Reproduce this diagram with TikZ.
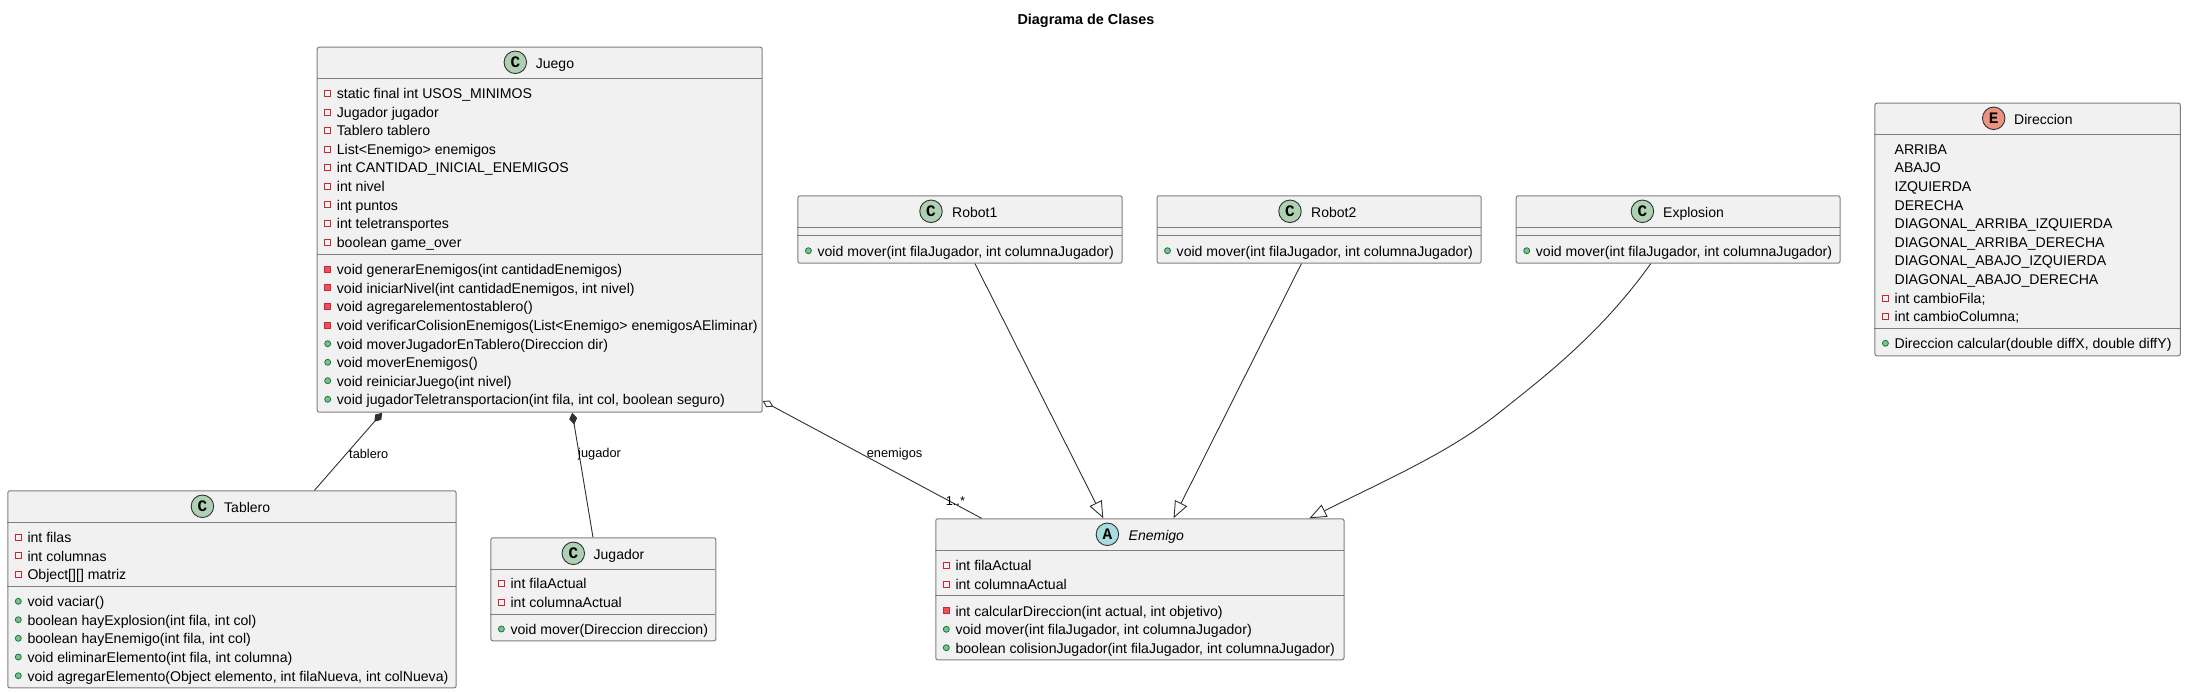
\documentclass[tikz,border=0pt]{standalone}
\usepackage{fontspec}
\setmainfont{Liberation Sans}
\newfontfamily\iconfont{Liberation Mono}
\usetikzlibrary{arrows.meta}
\definecolor{boxfill}{HTML}{F1F1F1}
\definecolor{boxline}{HTML}{7F7F7F}
\definecolor{conn}{HTML}{303030}
\definecolor{cfill}{HTML}{ADD1B2}
\definecolor{afill}{HTML}{A9DCDF}
\definecolor{efill}{HTML}{EB937F}
\definecolor{privline}{HTML}{C82930}
\definecolor{privfill}{HTML}{F24D5C}
\definecolor{publine}{HTML}{038048}
\definecolor{pubfill}{HTML}{84BE84}
\newcount\rowno
\tikzset{
  classbox/.style={draw=boxline,fill=boxfill,line width=1pt,rounded corners=2pt,inner sep=0pt,anchor=north west},
  rowtext/.style={anchor=base west,inner sep=0pt,font=\fontsize{14.1}{14.1}\selectfont,text=black},
  headtext/.style={anchor=base west,inner sep=0pt,font=\fontsize{14}{14}\selectfont,text=black},
  linktext/.style={anchor=base west,inner sep=0pt,font=\fontsize{12.8}{13}\selectfont,text=black},
  sepline/.style={draw=boxline,line width=1pt},
  link/.style={draw=conn,line width=0.9pt},
  badge/.style={circle,draw=conn,line width=0.9pt,minimum size=22.5pt,inner sep=0pt,font=\iconfont\bfseries\fontsize{16}{16}\selectfont,text=black},
}
% box: name, left, top, right, bottom, header bottom, separator
\newcommand{\umlbox}[7]{%
  \node[classbox,minimum width=#4pt-#2pt,minimum height=#5pt-#3pt] (#1) at (#2,#3) {};
  \draw[sepline] (#2,#6) -- (#4,#6);
  \draw[sepline] (#2,#7) -- (#4,#7);
}
% header: box name, badge x, y, fill, letter, text x, text
\newcommand{\umlhead}[7]{%
  \node[badge,fill=#4] (#1badge) at (#2,#3) {#5};
  \path (#6,#3) ++(0,6) node[headtext] (#1title) {#7};
}
\newcommand{\plainrow}[3]{\global\advance\rowno by 1
  \path (#1+20,#2+5.3) node[rowtext] (r\the\rowno) {#3};}
\newcommand{\privattr}[3]{%
  \draw[draw=privline,fill=none,line width=1pt] (#1+8,#2-3) rectangle (#1+14,#2+3);
  \plainrow{#1}{#2}{#3}}
\newcommand{\privmeth}[3]{%
  \draw[draw=privline,fill=privfill,line width=1pt] (#1+8,#2-3) rectangle (#1+14,#2+3);
  \plainrow{#1}{#2}{#3}}
\newcommand{\pubmeth}[3]{%
  \draw[draw=publine,fill=pubfill,line width=0.8pt] (#1+11,#2) circle (3pt);
  \plainrow{#1}{#2}{#3}}
\begin{document}
\begin{tikzpicture}[x=1pt,y=-1pt]
\useasboundingbox (0,0) rectangle (2185,693);
\node[anchor=base,inner sep=0pt,font=\bfseries\fontsize{14.4}{14.4}\selectfont] (title) at (1086,25) {Diagrama de Clases};

% Juego
\umlbox{juego}{316.7}{46.7}{761.7}{411.7}{78.7}{254.3}
\umlhead{juego}{515.3}{62.3}{cfill}{C}{535.7}{Juego}
\def\L{316.7}
\privattr{\L}{93.3}{static final int USOS\_MINIMOS}
\privattr{\L}{112}{Jugador jugador}
\privattr{\L}{130.3}{Tablero tablero}
\privattr{\L}{149.3}{List<Enemigo> enemigos}
\privattr{\L}{167.3}{int CANTIDAD\_INICIAL\_ENEMIGOS}
\privattr{\L}{186}{int nivel}
\privattr{\L}{204.7}{int puntos}
\privattr{\L}{223.3}{int teletransportes}
\privattr{\L}{242}{boolean game\_over}
\privmeth{\L}{269}{void generarEnemigos(int cantidadEnemigos)}
\privmeth{\L}{287.7}{void iniciarNivel(int cantidadEnemigos, int nivel)}
\privmeth{\L}{306.3}{void agregarelementostablero()}
\privmeth{\L}{325}{void verificarColisionEnemigos(List<Enemigo> enemigosAEliminar)}
\pubmeth{\L}{343.7}{void moverJugadorEnTablero(Direccion dir)}
\pubmeth{\L}{362.3}{void moverEnemigos()}
\pubmeth{\L}{380.7}{void reiniciarJuego(int nivel)}
\pubmeth{\L}{399.3}{void jugadorTeletransportacion(int fila, int col, boolean seguro)}

% Tablero
\umlbox{tablero}{7.3}{490.3}{455.6}{687.3}{522.3}{586.3}
\umlhead{tablero}{202.4}{506.3}{cfill}{C}{224}{Tablero}
\def\L{7.3}
\privattr{\L}{537.3}{int filas}
\privattr{\L}{555.7}{int columnas}
\privattr{\L}{574.3}{Object[][] matriz}
\pubmeth{\L}{601.3}{void vaciar()}
\pubmeth{\L}{619.7}{boolean hayExplosion(int fila, int col)}
\pubmeth{\L}{638.3}{boolean hayEnemigo(int fila, int col)}
\pubmeth{\L}{657}{void eliminarElemento(int fila, int columna)}
\pubmeth{\L}{675.7}{void agregarElemento(Object elemento, int filaNueva, int colNueva)}

% Jugador
\umlbox{jugador}{490.4}{537.3}{715.4}{640.3}{569.3}{614.3}
\umlhead{jugador}{573.3}{553.3}{cfill}{C}{593.5}{Jugador}
\def\L{490.4}
\privattr{\L}{583.3}{int filaActual}
\privattr{\L}{602}{int columnaActual}
\pubmeth{\L}{629}{void mover(Direccion direccion)}

% Enemigo
\umlbox{enemigo}{935.3}{518.3}{1343.5}{659.3}{550.3}{595.3}
\umlhead{enemigo}{1107.4}{534.3}{afill}{A}{1128.5}{\itshape Enemigo}
\def\L{935.3}
\privattr{\L}{565.3}{int filaActual}
\privattr{\L}{584}{int columnaActual}
\privmeth{\L}{610.7}{int calcularDireccion(int actual, int objetivo)}
\pubmeth{\L}{629.3}{void mover(int filaJugador, int columnaJugador)}
\pubmeth{\L}{647.7}{boolean colisionJugador(int filaJugador, int columnaJugador)}

% Robot1
\umlbox{robota}{797.4}{195.3}{1121.6}{262.7}{227.3}{235.3}
\umlhead{robota}{931}{211.3}{cfill}{C}{952}{Robot1}
\pubmeth{797.4}{250.7}{void mover(int filaJugador, int columnaJugador)}

% Robot2
\umlbox{robotb}{1156.5}{195.3}{1480.7}{262.7}{227.3}{235.3}
\umlhead{robotb}{1290}{211.3}{cfill}{C}{1311}{Robot2}
\pubmeth{1156.5}{250.7}{void mover(int filaJugador, int columnaJugador)}

% Explosion
\umlbox{explosion}{1515.7}{195.3}{1839.5}{262.7}{227.3}{235.3}
\umlhead{explosion}{1642.4}{211.3}{cfill}{C}{1663}{Explosion}
\pubmeth{1515.7}{250.7}{void mover(int filaJugador, int columnaJugador)}

% Direccion
\umlbox{direccion}{1874.4}{102.7}{2179.8}{355.3}{134.3}{328.3}
\umlhead{direccion}{1993.7}{118.3}{efill}{E}{2014}{Direccion}
\def\L{1874.4}
\plainrow{\L}{149.3}{ARRIBA}
\plainrow{\L}{167.3}{ABAJO}
\plainrow{\L}{186.3}{IZQUIERDA}
\plainrow{\L}{205}{DERECHA}
\plainrow{\L}{223.3}{DIAGONAL\_ARRIBA\_IZQUIERDA}
\plainrow{\L}{242}{DIAGONAL\_ARRIBA\_DERECHA}
\plainrow{\L}{260.3}{DIAGONAL\_ABAJO\_IZQUIERDA}
\plainrow{\L}{279}{DIAGONAL\_ABAJO\_DERECHA}
\privattr{\L}{298}{int cambioFila;}
\privattr{\L}{316.3}{int cambioColumna;}
\pubmeth{\L}{343.3}{Direccion calcular(double diffX, double diffY)}

% Connectors
\path (juego.south west) ++(65.5,0) coordinate (j1) (tablero.north west) ++(307.2,0) coordinate (t1);
\draw[link,{Diamond[length=12pt,width=8pt]}-] (j1) -- (t1);
\path (juego.south west) ++(255.5,0) coordinate (j2) (jugador.north west) ++(102.6,0) coordinate (u2);
\draw[link,{Diamond[length=12pt,width=8pt]}-] (j2) -- (u2);
\path (juego.south east) ++(0,-11.7) coordinate (j3) (enemigo.north west) ++(46.3,0) coordinate (e3);
\draw[link,{Diamond[open,length=12pt,width=7.5pt]}-] (j3) -- (e3);
\path (robota.south west) ++(177.6,0) coordinate (ra) (enemigo.north west) ++(168,0) coordinate (ea);
\draw[link,-{Triangle[open,length=17pt,width=13.5pt]}] (ra) -- (ea);
\path (robotb.south west) ++(144.9,0) coordinate (rb) (enemigo.north west) ++(238.2,0) coordinate (eb);
\draw[link,-{Triangle[open,length=17pt,width=13.5pt]}] (rb) -- (eb);
\path (explosion.south west) ++(135,0) coordinate (rc) (enemigo.north west) ++(374.1,0) coordinate (ec);
\draw[link,-{Triangle[open,length=17pt,width=13.5pt]}] (rc) .. controls (1600,335) and (1540,380) .. (1500,412) .. controls (1450,452) and (1390,478) .. (ec);

\path (t1) ++(34.5,-31.5) node[linktext] (lt) {tablero};
\path (u2) ++(-15,-79.5) node[linktext] (lj) {jugador};
\path (e3) ++(-115,-61) node[linktext] (le) {enemigos};
\path (e3) ++(-36,-13) node[linktext] (lm) {1..*};
\end{tikzpicture}
\end{document}
